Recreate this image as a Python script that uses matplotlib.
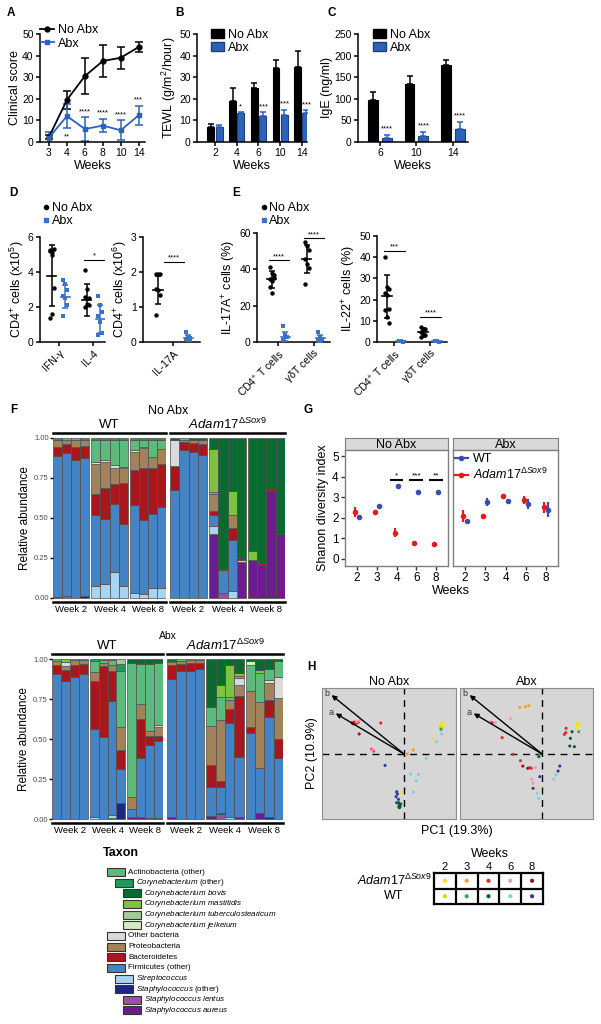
import numpy as np
import matplotlib
matplotlib.use('Agg')
from matplotlib import pyplot as plt
from matplotlib.patches import Rectangle, Patch
from matplotlib.lines import Line2D
from matplotlib import transforms

plt.rcParams['font.family'] = ['Liberation Sans', 'DejaVu Sans']
plt.rcParams['mathtext.fontset'] = 'custom'
plt.rcParams['mathtext.rm'] = 'Liberation Sans'
plt.rcParams['mathtext.it'] = 'Liberation Sans:italic'
plt.rcParams['mathtext.bf'] = 'Liberation Sans:bold'

# --------------- data ---------------
# A: clinical score
weeks_a = ['3', '4', '6', '8', '10', '14']
clin_noabx = [2.3, 19.5, 30.5, 37.5, 39.0, 44.0]
clin_noabx_sd = [1.0, 4.3, 8.5, 7.2, 5.0, 2.5]
clin_abx = [2.0, 12.0, 6.0, 7.6, 5.4, 12.4]
clin_abx_sd = [2.7, 5.6, 5.4, 3.2, 4.6, 4.4]
stars_a = ['', '**', '****', '****', '****', '***']

# B: TEWL
weeks_b = ['2', '4', '6', '10', '14']
tewl_noabx = [7.0, 19.1, 24.8, 34.3, 34.9]
tewl_noabx_sd = [1.5, 5.7, 2.7, 3.8, 7.0]
tewl_abx = [6.8, 13.2, 12.0, 12.4, 13.2]
tewl_abx_sd = [1.2, 0.5, 1.7, 2.6, 1.6]
stars_b = ['', '*', '****', '****', '****']

# C: IgE
weeks_c = ['6', '10', '14']
ige_noabx = [97, 135, 178]
ige_noabx_sd = [18, 17, 11]
ige_abx = [9.5, 15, 29]
ige_abx_sd = [7, 8, 17]
stars_c = ['****', '****', '****']

# D: CD4+ cells
d_cats = ['IFN-γ', 'IL-4']
d_noabx_pts = [[5.25, 5.15, 5.3, 5.2, 4.95, 3.1, 1.35, 1.6], [4.1, 3.05, 2.5, 2.55, 2.2, 2.1, 2.0]]
d_noabx_mean = [3.8, 2.4]
d_noabx_sd = [1.75, 0.9]
d_abx_pts = [[3.55, 3.3, 2.95, 2.65, 2.5, 2.1, 1.5], [2.65, 2.1, 1.7, 1.5, 1.15, 0.5, 0.4]]
d_abx_mean = [2.6, 1.3]
d_abx_sd = [0.65, 0.8]
d_sig = ['', '*']

d2_cats = ['IL-17A']
d2_noabx_pts = [[1.93, 1.95, 1.93, 1.52, 1.48, 1.33, 0.76]]
d2_noabx_mean = [1.5]
d2_noabx_sd = [0.4]
d2_abx_pts = [[0.29, 0.14, 0.12, 0.1, 0.08, 0.06]]
d2_abx_mean = [0.12]
d2_abx_sd = [0.08]
d2_sig = ['****']

# E: IL-17A+ / IL-22+
e_cats = ['CD4$^{+}$ T cells', 'γδT cells']
e17_noabx_pts = [[41.5, 38.2, 36.9, 34.5, 33.8, 35.0, 30.4, 26.8], [54.8, 52.6, 50.4, 45.6, 43.0, 40.6, 31.7]]
e17_noabx_mean = [34.5, 45.5]
e17_noabx_sd = [4.5, 7.7]
e17_abx_pts = [[8.7, 3.7, 2.8, 1.3, 2.5], [5.5, 2.8, 1.8, 0.9, 0.5]]
e17_abx_mean = [3.0, 2.0]
e17_abx_sd = [2.5, 2.0]
e17_sig = ['****', '****']

e22_noabx_pts = [[39.9, 26.0, 25.2, 22.9, 22.0, 15.8, 15.0, 11.8, 9.0], [7.1, 6.3, 6.0, 4.7, 3.9, 3.2, 2.4]]
e22_noabx_mean = [21.5, 4.5]
e22_noabx_sd = [10.0, 2.0]
e22_abx_pts = [[0.3, 0.4, 0.2, 0.3], [0.3, 0.4, 0.2, 0.3]]
e22_abx_mean = [0.3, 0.3]
e22_abx_sd = [0.2, 0.2]
e22_sig = ['***', '****']

# F: taxa (stack order bottom -> top)
stack_cols = ['aureus', 'lentus', 'staph', 'strep', 'firm', 'bact', 'proteo',
              'other', 'actino', 'coryne', 'tuber', 'jeik', 'mast', 'bovis']
taxa_color = {'actino': '#5cbb7c', 'coryne': '#22995a', 'bovis': '#0b6a30',
              'mast': '#7fc241', 'tuber': '#9fcb95', 'jeik': '#d5e9c2',
              'other': '#dadada', 'proteo': '#a2825a', 'bact': '#a8161e',
              'firm': '#4584c4', 'strep': '#a7d4f3', 'staph': '#1b2a80',
              'lentus': '#9d4fa6', 'aureus': '#6b1d8f'}
taxa_legend = ['actino', 'coryne', 'bovis', 'mast', 'tuber', 'jeik', 'other',
               'proteo', 'bact', 'firm', 'strep', 'staph', 'lentus', 'aureus']
taxa_names = ['Actinobacteria (other)', r'$\mathit{Corynebacterium}$ (other)',
              r'$\mathit{Corynebacterium\ bovis}$', r'$\mathit{Corynebacterium\ mastitidis}$',
              r'$\mathit{Corynebacterium\ tuberculostearicum}$', r'$\mathit{Corynebacterium\ jeikeium}$',
              'Other bacteria', 'Proteobacteria', 'Bacteroidetes', 'Firmicutes (other)',
              r'$\mathit{Streptococcus}$', r'$\mathit{Staphylococcus}$ (other)',
              r'$\mathit{Staphylococcus\ lentus}$', r'$\mathit{Staphylococcus\ aureus}$']
taxa_level = [0, 1, 2, 2, 2, 2, 0, 0, 0, 0, 1, 1, 2, 2]
week_groups = ['Week 2', 'Week 4', 'Week 8']

noabx_wt = [
    [.005, 0, 0, 0, .885, .055, .04, .005, 0, .01, 0, 0, 0, 0],
    [0, .01, 0, 0, .895, .055, .03, 0, .01, 0, 0, 0, 0, 0],
    [0, 0, 0, 0, .86, .085, .045, 0, .01, 0, 0, 0, 0, 0],
    [0, 0, .01, 0, .865, .075, .04, 0, 0, .01, 0, 0, 0, 0],
    [0, 0, 0, .075, .445, .13, .19, .01, .135, .015, 0, 0, 0, 0],
    [0, 0, 0, .085, .41, .195, .16, .01, .125, .015, 0, 0, 0, 0],
    [0, 0, 0, .16, .43, .12, .10, .02, .16, .01, 0, 0, 0, 0],
    [0, 0, 0, .075, .385, .26, .09, .01, .17, .01, 0, 0, 0, 0],
    [0, 0, 0, .03, .55, .22, .115, .01, .065, .01, 0, 0, 0, 0],
    [0, 0, 0, .025, .465, .32, .125, .01, .045, .01, 0, 0, 0, 0],
    [0, 0, 0, .06, .465, .285, .07, 0, .11, .01, 0, 0, 0, 0],
    [0, 0, 0, .06, .51, .27, .09, 0, .06, .01, 0, 0, 0, 0],
]
noabx_adam = [
    [0, 0, 0, 0, .675, .15, 0, .165, 0, 0, 0, 0, 0, .01],
    [0, 0, 0, 0, .925, .05, .015, 0, .01, 0, 0, 0, 0, 0],
    [0, 0, 0, 0, .91, .06, .02, 0, 0, 0, 0, 0, 0, .01],
    [0, 0, 0, 0, .895, .07, .025, 0, 0, 0, 0, 0, 0, .01],
    [.40, 0, 0, .05, .07, .025, .105, 0, .01, 0, 0, 0, .27, .07],
    [0, .03, 0, 0, .145, .005, 0, 0, 0, 0, 0, 0, 0, .82],
    [0, 0, 0, .045, .315, .075, .085, 0, 0, 0, 0, 0, .15, .33],
    [.225, 0, 0, .01, 0, .015, 0, 0, 0, 0, 0, 0, 0, .75],
    [.235, 0, 0, 0, 0, 0, 0, 0, 0, 0, 0, 0, .06, .705],
    [.205, 0, 0, 0, 0, .015, 0, 0, 0, 0, 0, 0, 0, .78],
    [.67, 0, 0, 0, 0, .01, 0, 0, 0, 0, 0, 0, 0, .32],
    [.40, 0, 0, 0, 0, 0, 0, 0, 0, 0, 0, 0, 0, .60],
]
abx_wt = [
    [0, 0, 0, 0, .905, .06, .02, .005, .01, 0, 0, 0, 0, 0],
    [0, 0, 0, 0, .86, .07, .025, .025, 0, 0, 0, 0, .02, 0],
    [0, 0, 0, 0, .89, .07, .035, 0, .005, 0, 0, 0, 0, 0],
    [0, 0, 0, 0, .905, .065, .025, 0, .005, 0, 0, 0, 0, 0],
    [0, 0, 0, .01, .55, .30, .06, 0, .07, .01, 0, 0, 0, 0],
    [0, 0, 0, 0, .51, .445, .02, 0, .02, .005, 0, 0, 0, 0],
    [0, .005, 0, .02, .71, .19, .04, 0, .03, .005, 0, 0, 0, 0],
    [0, 0, .10, 0, .215, .115, .145, 0, .35, .045, .03, 0, 0, 0],
    [.015, 0, 0, 0, .05, 0, .075, 0, .835, 0, 0, 0, 0, .025],
    [.01, 0, 0, 0, .37, .245, .095, 0, .25, 0, 0, 0, 0, .03],
    [.005, 0, 0, 0, .455, .06, .03, 0, .42, 0, 0, 0, 0, .03],
    [.005, 0, 0, 0, .48, .035, .055, .01, .39, 0, 0, 0, 0, .025],
]
abx_adam = [
    [.01, 0, 0, 0, .865, .085, .02, 0, .01, 0, 0, 0, 0, .01],
    [0, 0, 0, 0, .925, .045, .02, 0, .01, 0, 0, 0, 0, 0],
    [0, 0, 0, 0, .925, .05, .02, 0, .005, 0, 0, 0, 0, 0],
    [0, 0, 0, 0, .935, .04, .02, 0, .005, 0, 0, 0, 0, 0],
    [.02, 0, 0, 0, .18, .14, .24, 0, .12, 0, 0, 0, 0, .30],
    [0, .03, .005, 0, .165, .035, .385, 0, .145, 0, 0, 0, .075, .16],
    [0, 0, 0, .01, .59, .09, .055, 0, .02, 0, 0, 0, .195, .04],
    [.015, 0, 0, 0, .375, .38, .07, .04, .015, 0, 0, 0, .02, .085],
    [0, 0, 0, 0, .54, .035, .225, 0, .165, 0, 0, .025, 0, .01],
    [.035, 0, 0, 0, .285, 0, .41, 0, .18, 0, 0, 0, .02, .07],
    [0, 0, .01, 0, .63, .105, .105, .02, .07, 0, 0, 0, 0, .06],
    [0, 0, 0, 0, .38, .12, .255, .135, .095, 0, 0, 0, 0, .015],
]

# G: Shannon diversity
g_weeks = ['2', '3', '4', '6', '8']
g_noabx_adam = [2.28, 2.3, 1.27, 0.78, 0.7]
g_noabx_adam_se = [0.22, 0.07, 0.22, 0.06, 0.04]
g_noabx_wt = [2.05, 2.55, 3.55, 3.27, 3.27]
g_noabx_wt_se = [0.04, 0.05, 0.05, 0.08, 0.1]
g_abx_adam = [2.1, 2.1, 3.05, 2.85, 2.5]
g_abx_adam_se = [0.3, 0.06, 0.12, 0.2, 0.25]
g_abx_wt = [1.83, 2.75, 2.8, 2.67, 2.4]
g_abx_wt_se = [0.04, 0.2, 0.07, 0.25, 0.35]
g_sig = ['', '', '*', '***', '**']

# H: PCA
h_weeks = ['2', '3', '4', '6', '8']
adam_week_colors = ['#f2e600', '#f5a21c', '#e8252b', '#f29ab3', '#a3101c']
wt_week_colors = ['#c5dc1e', '#3aa655', '#0a5e2c', '#7ecfe0', '#2d3c9e']
h_arrow_names = ['a', 'b']
h_arrow_pc1 = [-0.50, -0.53]
h_arrow_pc2 = [0.31, 0.45]

h_noabx_pc1 = [-0.382, -0.365, -0.350, -0.336, -0.370, -0.170, -0.236, -0.224,
               -0.321, -0.229, -0.345, -0.328, -0.375,
               0.068, 0.024, 0.275,
               0.268, 0.282, 0.275, 0.287, 0.209, -0.029,
               0.263, 0.277, 0.270, -0.041,
               0.275, 0.238, 0.161, 0.049, 0.105, 0.088, 0.068,
               -0.139, -0.054, -0.049, -0.058, -0.041, -0.054,
               -0.034, -0.029, -0.039, -0.024, -0.034]
h_noabx_pc2 = [0.239, 0.244, 0.234, 0.242, 0.229, 0.237, 0.036, 0.023,
               0.260, 0.031, 0.247, 0.153, 0.234,
               0.031, 0.0, 0.204,
               0.229, 0.234, 0.214, 0.221, 0.120, -0.300,
               0.204, 0.196, 0.188, -0.402,
               0.153, 0.094, -0.033, -0.153, -0.155, -0.204, -0.290,
               -0.087, -0.288, -0.305, -0.326, -0.346, -0.372,
               -0.389, -0.402, -0.372, -0.382, -0.410]
h_noabx_grp = ['A4'] * 8 + ['A6'] * 3 + ['A8'] * 2 + ['A3'] * 3 + ['A2'] * 6 + \
              ['W2'] * 2 + ['W3'] * 2 + ['W6'] * 7 + ['W8'] * 6 + ['W4'] * 5

h_abx_pc1 = [-0.163, -0.122, -0.097,
             -0.231, -0.377, -0.341, -0.049, -0.075, -0.066,
             -0.292, -0.212, -0.158, -0.090, -0.080, 0.175, 0.173, 0.163, -0.365,
             -0.141, -0.105,
             -0.041, 0.255, 0.268, 0.260, 0.251,
             -0.024, 0.219, 0.207, 0.202, 0.236,
             0.268, -0.017,
             -0.017, -0.066, 0.129, 0.117,
             -0.036, -0.024, 0.085, 0.102]
h_abx_pc2 = [0.356, 0.361, 0.369,
             0.270, 0.247, 0.239, -0.104, -0.193, -0.224,
             0.125, -0.003, -0.051, -0.104, -0.109, 0.196, 0.163, 0.150, 0.239,
             -0.092, -0.109,
             -0.262, 0.229, 0.234, 0.216, 0.204,
             -0.020, 0.170, 0.120, 0.061, 0.056,
             0.170, 0.0,
             -0.173, -0.262, -0.092, -0.130,
             -0.300, -0.338, -0.193, -0.160]
h_abx_grp = ['A3'] * 3 + ['A6'] * 6 + ['A4'] * 9 + ['A8'] * 2 + ['A2'] * 5 + \
            ['W4'] * 5 + ['W3'] * 2 + ['W8'] * 4 + ['W6'] * 4

# --------------- figure helpers ---------------
W, H = 601, 1024
fig = plt.figure(figsize=(W / 100, H / 100), dpi=100)
BLUE = '#2e62b6'
BLUE2 = '#3a72c4'
RED = '#e41a1c'
GBLUE = '#3c4fa8'


def box(x0, y0, x1, y1):
    return fig.add_axes([x0 / W, 1 - y1 / H, (x1 - x0) / W, (y1 - y0) / H])


def ftext(x, y, s, **kw):
    fig.text(x / W, 1 - y / H, s, **kw)


def prism(ax, fs=7.5):
    for s in ['top', 'right']:
        ax.spines[s].set_visible(False)
    ax.spines['left'].set_linewidth(1.1)
    ax.spines['bottom'].set_linewidth(1.1)
    ax.tick_params(direction='out', length=3, width=1.1, labelsize=fs, pad=1.5)


for lab, x, y in [('A', 7, 13), ('B', 175, 13), ('C', 328, 13), ('D', 9, 193), ('E', 232, 193),
                  ('F', 10, 410), ('G', 303, 410), ('H', 307, 667)]:
    ftext(x, y, lab, fontsize=8.5, fontweight='bold', va='center')

# --------------- A ---------------
ax = box(40, 34, 145, 142)
prism(ax)
xa = np.arange(len(weeks_a))
ax.errorbar(xa, clin_noabx, yerr=clin_noabx_sd, color='black', marker='o', ms=3.5, lw=1.3,
            elinewidth=1.1, capsize=3, capthick=1.1)
ax.errorbar(xa, clin_abx, yerr=clin_abx_sd, color=BLUE, marker='s', ms=3.5, lw=1.3,
            elinewidth=1.1, capsize=3, capthick=1.1)
for i, s in enumerate(stars_a):
    if not s:
        continue
    y = clin_abx[i] + clin_abx_sd[i] + 2.5
    if i == 1:
        y = clin_abx[i] - clin_abx_sd[i] - 4
    ax.text(xa[i], y, s, ha='center', va='center', fontsize=5.5)
ax.set_xlim(-0.5, 5.35)
ax.set_ylim(0, 50)
ax.set_yticks(range(0, 51, 10))
ax.set_xticks(xa)
ax.set_xticklabels(weeks_a)
ax.set_ylabel('Clinical score', fontsize=9, labelpad=1)
ax.set_xlabel('Weeks', fontsize=9, labelpad=1)
ax.legend(handles=[Line2D([], [], color='black', marker='o', ms=3.5, lw=1.3),
                   Line2D([], [], color=BLUE, marker='s', ms=3.5, lw=1.3)],
          labels=['No Abx', 'Abx'], loc='upper left', bbox_to_anchor=(0.0, 1.09), frameon=False,
          fontsize=9, handlelength=1.1, handletextpad=0.3, borderaxespad=0, borderpad=0,
          labelspacing=0.1)


# --------------- B, C ---------------
def barpanel(ax, cats, noabx, noabx_sd, abx, abx_sd, stars, star_off, off, width):
    prism(ax)
    x = np.arange(len(cats))
    ax.bar(x - off, noabx, width, color='black', edgecolor='black', lw=0.8)
    ax.bar(x + off, abx, width, color=BLUE, edgecolor='#1d3f7e', lw=0.8)
    ax.errorbar(x - off, noabx, yerr=[np.zeros(len(x)), noabx_sd], fmt='none', ecolor='black',
                elinewidth=1.1, capsize=2.5, capthick=1.1)
    ax.errorbar(x + off, abx, yerr=[np.zeros(len(x)), abx_sd], fmt='none', ecolor=BLUE,
                elinewidth=1.1, capsize=2.5, capthick=1.1)
    for i, s in enumerate(stars):
        if s:
            ax.text(x[i] + off, abx[i] + abx_sd[i] + star_off, s, ha='center', va='center', fontsize=5.5)
    ax.set_xticks(x)
    ax.set_xticklabels(cats)
    ax.set_xlabel('Weeks', fontsize=9, labelpad=1)


ax = box(197, 34, 307, 142)
barpanel(ax, weeks_b, tewl_noabx, tewl_noabx_sd, tewl_abx, tewl_abx_sd, stars_b, 2.5, 0.19, 0.32)
ax.set_xlim(-0.83, 4.24)
ax.set_ylim(0, 50)
ax.set_yticks(range(0, 51, 10))
ax.set_ylabel('TEWL (g/m$^{2}$/hour)', fontsize=9, labelpad=1)
ax.legend(handles=[Patch(color='black'), Patch(facecolor=BLUE, edgecolor='#1d3f7e')],
          labels=['No Abx', 'Abx'], loc='upper left', bbox_to_anchor=(0.13, 1.05), frameon=False,
          fontsize=9, handlelength=1.0, handleheight=0.7, handletextpad=0.3, borderaxespad=0,
          borderpad=0, labelspacing=0.1)

ax = box(358, 34, 468, 142)
barpanel(ax, weeks_c, ige_noabx, ige_noabx_sd, ige_abx, ige_abx_sd, stars_c, 14, 0.19, 0.27)
ax.set_xlim(-0.6, 2.41)
ax.set_ylim(0, 250)
ax.set_yticks(range(0, 251, 50))
ax.set_ylabel('IgE (ng/ml)', fontsize=9, labelpad=1)
ax.legend(handles=[Patch(color='black'), Patch(facecolor=BLUE, edgecolor='#1d3f7e')],
          labels=['No Abx', 'Abx'], loc='upper left', bbox_to_anchor=(0.14, 1.05), frameon=False,
          fontsize=9, handlelength=1.0, handleheight=0.7, handletextpad=0.3, borderaxespad=0,
          borderpad=0, labelspacing=0.1)


# --------------- D, E ---------------
def dotpanel(ax, cats, n_pts, n_mean, n_sd, a_pts, a_mean, a_sd, sig, sig_y, off=0.19):
    prism(ax)
    for i in range(len(cats)):
        for pts, m, s, col, mk, sgn in ((n_pts[i], n_mean[i], n_sd[i], 'black', 'o', -1),
                                        (a_pts[i], a_mean[i], a_sd[i], BLUE2, 's', 1)):
            xc = i + sgn * off
            jit = (np.arange(len(pts)) % 3 - 1) * 0.06
            ax.scatter(xc + jit, pts, s=10, color=col, marker=mk, lw=0, zorder=3, clip_on=False)
            ax.errorbar(xc, m, yerr=s, color=col, elinewidth=1.1, capsize=2.5, capthick=1.1, zorder=4)
            ax.plot([xc - 0.13, xc + 0.13], [m, m], color=col, lw=1.2, zorder=4)
        if sig[i]:
            ax.plot([i - 0.27, i + 0.3], [sig_y[i], sig_y[i]], color='black', lw=0.8)
            ax.text(i + 0.02, sig_y[i], sig[i], ha='center', va='bottom', fontsize=5.5)
    ax.set_xticks(range(len(cats)))
    ax.set_xticklabels(cats, rotation=45, ha='right', rotation_mode='anchor')


def dotlegend(ax, anchor):
    ax.legend(handles=[Line2D([], [], color='black', marker='o', ms=3, lw=0),
                       Line2D([], [], color=BLUE2, marker='s', ms=3, lw=0)],
              labels=['No Abx', 'Abx'], loc='upper left', bbox_to_anchor=anchor, frameon=False,
              fontsize=9, handlelength=0.5, handletextpad=0.2, borderaxespad=0, borderpad=0,
              labelspacing=0.05)


ax = box(40, 237, 105, 342)
dotpanel(ax, d_cats, d_noabx_pts, d_noabx_mean, d_noabx_sd, d_abx_pts, d_abx_mean, d_abx_sd,
         d_sig, [0, 4.7])
ax.set_xlim(-0.53, 1.33)
ax.set_ylim(0, 6)
ax.set_yticks([0, 2, 4, 6])
ax.set_ylabel('CD4$^{+}$ cells (x10$^{5}$)', fontsize=9, labelpad=1)
dotlegend(ax, (0.05, 1.33))

ax = box(143, 237, 200, 342)
dotpanel(ax, d2_cats, d2_noabx_pts, d2_noabx_mean, d2_noabx_sd, d2_abx_pts, d2_abx_mean,
         d2_abx_sd, d2_sig, [2.3], off=0.43)
ax.set_xlim(-0.86, 0.77)
ax.set_ylim(0, 3)
ax.set_yticks([0, 1, 2, 3])
ax.set_ylabel('CD4$^{+}$ cells (x10$^{6}$)', fontsize=9, labelpad=1)

ax = box(257, 233, 330, 342)
dotpanel(ax, e_cats, e17_noabx_pts, e17_noabx_mean, e17_noabx_sd, e17_abx_pts, e17_abx_mean,
         e17_abx_sd, e17_sig, [45, 57])
ax.set_xlim(-0.61, 1.47)
ax.set_ylim(0, 60)
ax.set_yticks([0, 20, 40, 60])
ax.set_ylabel('IL-17A$^{+}$ cells (%)', fontsize=9, labelpad=1)
dotlegend(ax, (0.05, 1.28))

ax = box(377, 236, 447, 342)
dotpanel(ax, e_cats, e22_noabx_pts, e22_noabx_mean, e22_noabx_sd, e22_abx_pts, e22_abx_mean,
         e22_abx_sd, e22_sig, [43, 12])
ax.set_xlim(-0.47, 1.47)
ax.set_ylim(0, 50)
ax.set_yticks(range(0, 51, 10))
ax.set_ylabel('IL-22$^{+}$ cells (%)', fontsize=9, labelpad=1)


# --------------- F ---------------
def stackpanel(ax, rows, show_y):
    vals = np.array(rows)
    xs = np.array([g * 4.2 + j for g in range(3) for j in range(4)])
    bottom = np.zeros(len(xs))
    for k, name in enumerate(stack_cols):
        h = vals[:, k]
        keep = h > 0
        if keep.any():
            ax.bar(xs[keep], h[keep], 1.0, bottom=bottom[keep], color=taxa_color[name],
                   edgecolor='#4d4d4d', lw=0.5)
        bottom += h
    ax.set_xlim(-0.5, 11.9)
    ax.set_ylim(-0.02, 1.02)
    for s in ax.spines.values():
        s.set_visible(False)
    ax.set_xticks([])
    ax.set_yticks([0, 0.25, 0.5, 0.75, 1.0])
    ax.set_yticklabels(['0.00', '0.25', '0.50', '0.75', '1.00'])
    ax.tick_params(axis='y', length=2, width=1, labelsize=5.5, labelcolor='#4d4d4d', pad=1)
    if not show_y:
        ax.set_yticks([])
    tr = transforms.blended_transform_factory(ax.transData, ax.transAxes)
    for g, wk in enumerate(week_groups):
        ax.plot([g * 4.2 - 0.5, g * 4.2 + 3.5], [-0.005, -0.005], color='black', lw=1.8,
                transform=tr, clip_on=False)
        ax.text(g * 4.2 + 1.5, -0.025, wk, transform=tr, ha='center', va='top', fontsize=6.8)
    ax.plot([0, 1], [1.01, 1.01], color='black', lw=1.8, transform=ax.transAxes, clip_on=False)


ADAM = r'$\mathit{Adam17}^{\mathit{\Delta Sox9}}$'
for top, rows_wt, rows_adam, title, xl, xr in [(438, noabx_wt, noabx_adam, 'No Abx', (53, 166), (170, 285)),
                                              (659, abx_wt, abx_adam, 'Abx', (52, 163), (167, 283))]:
    axl = box(xl[0], top - 3.2, xl[1], top + 163.2)
    stackpanel(axl, rows_wt, True)
    axl.set_ylabel('Relative abundance', fontsize=8.5, labelpad=2)
    axl.text(0.5, 1.06, 'WT', transform=axl.transAxes, ha='center', va='center', fontsize=9.5)
    axr = box(xr[0], top - 3.2, xr[1], top + 163.2)
    stackpanel(axr, rows_adam, False)
    axr.text(0.5, 1.06, ADAM, transform=axr.transAxes, ha='center', va='center', fontsize=9.5)
    ftext(168, top - 27 if title == 'No Abx' else top - 23, title, fontsize=9 if title == 'No Abx' else 7.5,
          ha='center', va='center')

# taxon legend
ftext(103, 853, 'Taxon', fontsize=9, fontweight='bold', va='center')
lax = box(0, 840, 601, 1024)
lax.set_xlim(0, 601)
lax.set_ylim(1024, 840)
lax.axis('off')
for i, (key, name, lvl) in enumerate(zip(taxa_legend, taxa_names, taxa_level)):
    y = 872 + i * 10.65
    x0 = 107 + lvl * 8
    lax.add_patch(Rectangle((x0, y - 4), 18, 8, facecolor=taxa_color[key], edgecolor='#333333', lw=0.8))
    lax.text(x0 + 21, y, name, fontsize=5.8, va='center', ha='left')

# --------------- G ---------------
gp = np.arange(len(g_weeks))
for x0, x1, title, adam, adam_se, wt, wt_se, first in [
        (345, 448, 'No Abx', g_noabx_adam, g_noabx_adam_se, g_noabx_wt, g_noabx_wt_se, True),
        (453, 558, 'Abx', g_abx_adam, g_abx_adam_se, g_abx_wt, g_abx_wt_se, False)]:
    st = box(x0, 438, x1, 450)
    st.set_facecolor('#d9d9d9')
    st.set_xticks([])
    st.set_yticks([])
    for s in st.spines.values():
        s.set_color('#7f7f7f')
    st.text(0.5, 0.45, title, transform=st.transAxes, ha='center', va='center', fontsize=9)
    ax = box(x0, 450, x1, 566)
    for s in ax.spines.values():
        s.set_color('#7f7f7f')
        s.set_linewidth(1)
    ax.errorbar(gp - 0.1, adam, yerr=adam_se, fmt='o', color=RED, ms=3, elinewidth=1.6, capsize=0)
    ax.errorbar(gp + 0.1, wt, yerr=wt_se, fmt='o', color=GBLUE, ms=3, elinewidth=1.6, capsize=0)
    ax.set_xlim(-0.6, 4.6)
    ax.set_ylim(-0.35, 5.3)
    ax.set_xticks(gp)
    ax.set_xticklabels(g_weeks)
    ax.set_yticks(range(6))
    ax.tick_params(direction='out', length=3, width=1, color='#333333', labelsize=8.5, pad=1.5)
    if first:
        ax.set_ylabel('Shanon diversity index', fontsize=9, labelpad=2)
        for i, s in enumerate(g_sig):
            if s:
                ax.plot([i - 0.3, i + 0.3], [3.85, 3.85], color='black', lw=1.5)
                ax.text(i, 3.85, s, ha='center', va='bottom', fontsize=6)
    else:
        ax.set_yticklabels([])
        ax.tick_params(axis='y', length=0)
        ax.legend(handles=[Line2D([], [], color=GBLUE, marker='o', ms=3, lw=1.6),
                           Line2D([], [], color=RED, marker='o', ms=3, lw=1.6)],
                  labels=['WT', ADAM], loc='upper left', bbox_to_anchor=(0.02, 0.97), frameon=False,
                  fontsize=9, handlelength=1.0, handletextpad=0.4, borderaxespad=0, borderpad=0,
                  labelspacing=0.1)
ftext(451, 591, 'Weeks', fontsize=9, ha='center', va='center')

# --------------- H ---------------
grp_color = {}
for i, wk in enumerate(h_weeks):
    grp_color['A' + wk] = adam_week_colors[i]
    grp_color['W' + wk] = wt_week_colors[i]

for x0, x1, title, pc1, pc2, grp, first in [
        (322, 456, 'No Abx', h_noabx_pc1, h_noabx_pc2, h_noabx_grp, True),
        (460, 593, 'Abx', h_abx_pc1, h_abx_pc2, h_abx_grp, False)]:
    ax = box(x0, 688, x1, 819)
    ax.set_facecolor('#d6d6d6')
    for s in ax.spines.values():
        s.set_color('#8c8c8c')
    ax.set_xlim(-0.6, 0.38 if first else 0.372)
    ax.set_ylim(-0.496, 0.504)
    ax.set_xticks([])
    ax.set_yticks([])
    ax.axvline(0, color='black', lw=1, ls=(0, (5, 4)))
    ax.axhline(0, color='black', lw=1, ls=(0, (5, 4)))
    ax.scatter(pc1, pc2, s=5, c=[grp_color[g] for g in grp], lw=0, zorder=3)
    for nm, px, py in zip(h_arrow_names, h_arrow_pc1, h_arrow_pc2):
        ax.annotate('', xy=(px, py), xytext=(0, 0),
                    arrowprops=dict(arrowstyle='-|>', color='black', lw=1, mutation_scale=7,
                                    shrinkA=0, shrinkB=0))
        ax.text(px - 0.035, py + 0.01, nm, fontsize=6.5, ha='center', va='center', color='#333333')
    ax.set_title(title, fontsize=9, pad=2)
    if first:
        ax.set_ylabel('PC2 (10.9%)', fontsize=9, labelpad=3)
ftext(457, 831, 'PC1 (19.3%)', fontsize=9, ha='center', va='center')

# week colour key
ftext(490, 854, 'Weeks', fontsize=9, ha='center', va='center')
tax = box(434, 873, 543, 904)
tax.set_xlim(0, 5)
tax.set_ylim(2, 0)
tax.set_xticks([])
tax.set_yticks([])
for s in tax.spines.values():
    s.set_linewidth(1.6)
for i in range(1, 5):
    tax.axvline(i, color='black', lw=1.6)
tax.axhline(1, color='black', lw=1.6)
tax.scatter(np.arange(5) + 0.5, np.full(5, 0.5), s=9, c=adam_week_colors, lw=0)
tax.scatter(np.arange(5) + 0.5, np.full(5, 1.5), s=9, c=wt_week_colors, lw=0)
for i, wk in enumerate(h_weeks):
    tax.text(i + 0.5, -0.08, wk, ha='center', va='bottom', fontsize=8)
ftext(394, 880, ADAM, fontsize=9, ha='center', va='center')
ftext(394, 896, 'WT', fontsize=9, ha='center', va='center')

fig.savefig('out.png', dpi=100)
